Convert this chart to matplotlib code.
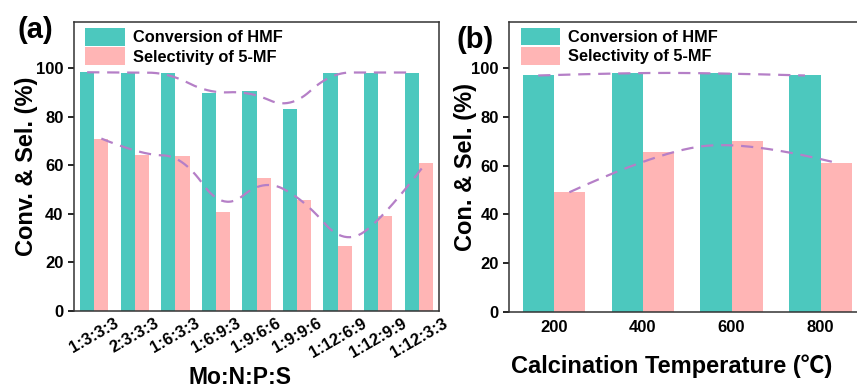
import numpy as np
import matplotlib
matplotlib.use("Agg")
import matplotlib.pyplot as plt

plt.rcParams["font.family"] = ["Liberation Sans", "Noto Sans CJK SC", "DejaVu Sans"]
plt.rcParams["font.weight"] = "bold"

# Panel (a): Mo:N:P:S ratio
ratios = ["1:3:3:3", "2:3:3:3", "1:6:3:3", "1:6:9:3", "1:9:6:6",
          "1:9:9:6", "1:12:6:9", "1:12:9:9", "1:12:3:3"]
conv_a = [98.3, 98.2, 98.1, 89.6, 90.5, 83.0, 98.2, 98.2, 98.2]
sel_a = [71.0, 64.2, 64.0, 40.6, 54.6, 45.7, 26.6, 39.1, 60.9]

# Panel (b): calcination temperature
temps = ["200", "400", "600", "800"]
conv_b = [97.0, 98.1, 98.0, 97.0]
sel_b = [49.1, 65.8, 70.2, 61.2]

TEAL = "#4cc8be"
PINK = "#ffb5b5"
PURPLE = "#b57fc7"
WIDTH = 0.35


def bspline(x, y, degree=2, n=200):
    """Clamped uniform B-spline using the points as control points (like Origin's B-spline line)."""
    pts = np.column_stack([x, y]).astype(float)
    k = degree
    m = len(pts)
    inner = np.arange(1, m - k)
    knots = np.concatenate([np.zeros(k + 1), inner, np.full(k + 1, m - k)]).astype(float)
    ts = np.linspace(0, m - k, n)
    out = []
    for t in ts:
        # Cox-de Boor
        N = np.zeros(len(knots) - 1)
        for i in range(len(knots) - 1):
            if knots[i] <= t < knots[i + 1]:
                N[i] = 1.0
        if t >= knots[-1]:
            N[m - 1] = 1.0
        for d in range(1, k + 1):
            Nn = np.zeros(len(knots) - 1 - d)
            for i in range(len(Nn)):
                a = 0.0
                if knots[i + d] != knots[i]:
                    a = (t - knots[i]) / (knots[i + d] - knots[i]) * N[i]
                b = 0.0
                if knots[i + d + 1] != knots[i + 1]:
                    b = (knots[i + d + 1] - t) / (knots[i + d + 1] - knots[i + 1]) * N[i + 1]
                Nn[i] = a + b
            N = Nn
        out.append(N[:m] @ pts)
    out = np.array(out)
    return out[:, 0], out[:, 1]


def draw_panel(ax, labels, conv, sel):
    x = np.arange(len(labels))
    ax.bar(x - WIDTH / 2, conv, WIDTH, color=TEAL, label="Conversion of HMF", zorder=2)
    ax.bar(x + WIDTH / 2, sel, WIDTH, color=PINK, label="Selectivity of 5-MF", zorder=2)
    for xs, ys in ((x - WIDTH / 2, conv), (x + WIDTH / 2, sel)):
        cx, cy = bspline(xs, ys)
        ax.plot(cx, cy, color=PURPLE, lw=1.6, dashes=(5.5, 3.5), zorder=3)
    ax.set_xlim(-0.5, len(labels) - 0.5)
    ax.set_ylim(0, 119)
    ax.set_yticks([0, 20, 40, 60, 80, 100])
    ax.set_xticks(x)
    ax.tick_params(axis="x", direction="in", length=4, width=1.2, labelsize=12)
    ax.tick_params(axis="y", direction="out", length=4, width=1.2, labelsize=12)
    for s in ax.spines.values():
        s.set_linewidth(1.1)
        s.set_color("#333333")
    ax.legend(loc="upper left", bbox_to_anchor=(0.0, 1.02), frameon=False,
              fontsize=11.8, handlelength=2.4, handleheight=1.3,
              handletextpad=0.5, labelspacing=0.1, borderaxespad=0.3)


fig = plt.figure(figsize=(8.57, 3.9), dpi=100)
ax_a = fig.add_axes([0.0863, 0.2026, 0.426, 0.741])
ax_b = fig.add_axes([0.5943, 0.2, 0.415, 0.744])

draw_panel(ax_a, ratios, conv_a, sel_a)
ax_a.set_xticklabels(ratios, rotation=30, ha="center")
ax_a.set_xlabel("Mo:N:P:S", fontsize=16.5, fontweight="bold")
ax_a.xaxis.set_label_coords(0.455, -0.192)
ax_a.set_ylabel("Conv. & Sel. (%)", fontsize=17, fontweight="bold")
ax_a.yaxis.set_label_coords(-0.099, 0.5)

draw_panel(ax_b, temps, conv_b, sel_b)
ax_b.set_xticklabels(temps)
ax_b.tick_params(axis="x", pad=6)
ax_b.set_xlabel("Calcination Temperature (℃)", fontsize=17, fontweight="bold")
ax_b.xaxis.set_label_coords(0.457, -0.145)
ax_b.set_ylabel("Con. & Sel. (%)", fontsize=17, fontweight="bold")
ax_b.yaxis.set_label_coords(-0.091, 0.5)

fig.text(35 / 857, 1 - 30 / 390, "(a)", fontsize=21, fontweight="bold", ha="center", va="center")
fig.text(475 / 857, 1 - 40 / 390, "(b)", fontsize=21, fontweight="bold", ha="center", va="center")

fig.savefig("out.png", dpi=100)
